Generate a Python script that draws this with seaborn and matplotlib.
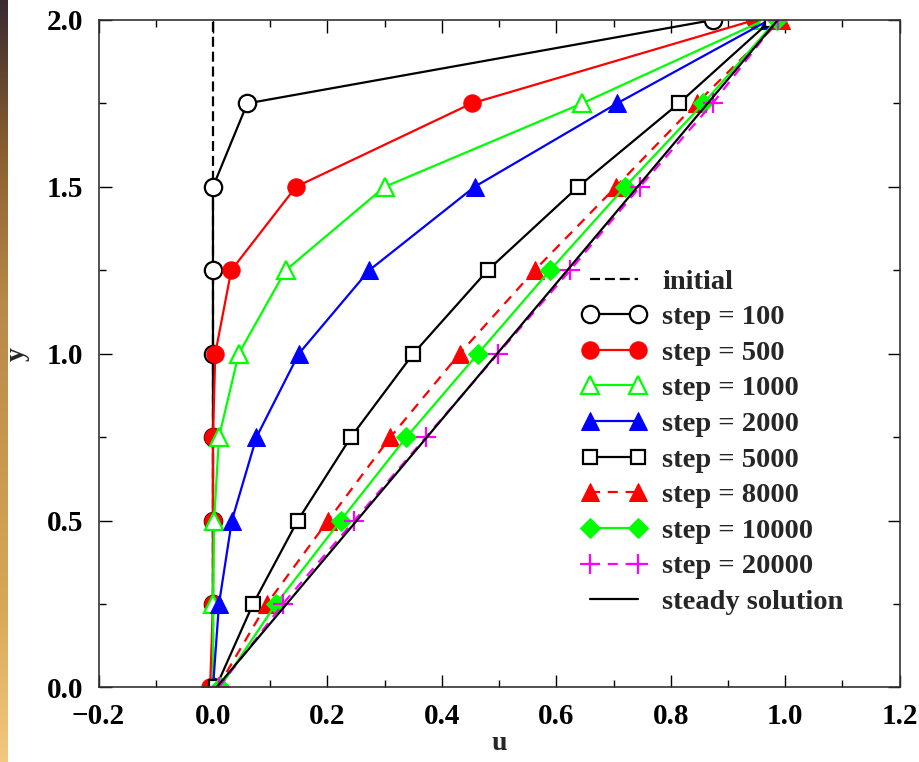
import numpy as np
import pandas as pd
import matplotlib
matplotlib.use("Agg")
import matplotlib.pyplot as plt
import seaborn as sns

# Velocity profiles u(y) at successive time steps
y_nodes = [0.0, 0.25, 0.5, 0.75, 1.0, 1.25, 1.5, 1.75, 2.0]

u_step100 = [0.0, 0.0, 0.0, 0.0, 0.0, 0.0, 0.0, 0.060, 0.874]
u_step500 = [-0.005, 0.0, 0.0, 0.0, 0.004, 0.032, 0.145, 0.452, 0.947]
u_step1000 = [0.0, 0.0, 0.002, 0.0105, 0.045, 0.127, 0.300, 0.645, 0.964]
u_step2000 = [0.0, 0.0105, 0.033, 0.076, 0.150, 0.273, 0.457, 0.706, 0.972]
u_step5000 = [0.005, 0.070, 0.148, 0.241, 0.350, 0.480, 0.638, 0.814, 0.976]
u_step8000 = [0.008, 0.094, 0.201, 0.310, 0.431, 0.562, 0.704, 0.845, 0.992]
u_step10000 = [0.012, 0.110, 0.223, 0.338, 0.463, 0.589, 0.720, 0.857, 0.985]
u_step20000 = [0.010, 0.122, 0.247, 0.372, 0.498, 0.624, 0.746, 0.873, 0.987]

initial_u = [0.0, 0.0]
initial_y = [0.0, 2.0]
steady_u = [0.006, 0.987]
steady_y = [0.0, 2.0]

x_ticks = [-0.2, 0.0, 0.2, 0.4, 0.6, 0.8, 1.0, 1.2]
y_ticks = [0.0, 0.5, 1.0, 1.5, 2.0]

sns.set_theme(style="ticks")
plt.rcParams["font.family"] = ["Liberation Serif", "DejaVu Serif"]
plt.rcParams["font.weight"] = "bold"
plt.rcParams["axes.labelweight"] = "bold"

fig = plt.figure(figsize=(9.19, 7.62), dpi=100)
fig.patch.set_facecolor("white")
ax = fig.add_axes([0.1072, 0.0978, 0.8718, 0.876])

GREEN = "#00ff00"
MAGENTA = "#ff00ff"
lw = 1.6

series = [
    ("step = 100", u_step100, dict(color="black", marker="o", markersize=12.5,
                                   markerfacecolor="white", markeredgecolor="black",
                                   markeredgewidth=1.6, linestyle="-")),
    ("step = 500", u_step500, dict(color="red", marker="o", markersize=12.5,
                                   markerfacecolor="red", markeredgecolor="red",
                                   linestyle="-")),
    ("step = 1000", u_step1000, dict(color=GREEN, marker="^", markersize=13,
                                     markerfacecolor="white", markeredgecolor=GREEN,
                                     markeredgewidth=1.6, linestyle="-")),
    ("step = 2000", u_step2000, dict(color="blue", marker="^", markersize=13,
                                     markerfacecolor="blue", markeredgecolor="blue",
                                     linestyle="-")),
    ("step = 5000", u_step5000, dict(color="black", marker="s", markersize=10.5,
                                     markerfacecolor="white", markeredgecolor="black",
                                     markeredgewidth=1.6, linestyle="-")),
    ("step = 8000", u_step8000, dict(color="red", marker="^", markersize=13,
                                     markerfacecolor="red", markeredgecolor="red",
                                     linestyle=(0, (4.5, 3.5)))),
    ("step = 10000", u_step10000, dict(color=GREEN, marker="D", markersize=10.5,
                                       markerfacecolor=GREEN, markeredgecolor=GREEN,
                                       linestyle="-")),
    ("step = 20000", u_step20000, dict(color=MAGENTA, marker="+", markersize=14,
                                       markeredgecolor=MAGENTA, markeredgewidth=1.6,
                                       linestyle=(0, (4.5, 3.5)))),
]

# initial condition
sns.lineplot(x=initial_u, y=initial_y, ax=ax, color="black", lw=lw,
             linestyle=(0, (4.5, 2.2)), estimator=None, sort=False, label="initial")

for label, u_vals, style in series:
    df = pd.DataFrame({"u": u_vals, "y": y_nodes})
    sns.lineplot(data=df, x="u", y="y", ax=ax, lw=lw, estimator=None,
                 sort=False, label=label, **style)

sns.lineplot(x=steady_u, y=steady_y, ax=ax, color="black", lw=lw,
             estimator=None, sort=False, label="steady solution")

ax.set_xlim(-0.2, 1.2)
ax.set_ylim(0.0, 2.0)
ax.set_xticks(x_ticks)
ax.set_yticks(y_ticks)
ax.set_xticklabels([f"{t:.1f}".replace("-", "\u2212") for t in x_ticks])
ax.set_yticklabels([f"{t:.1f}" for t in y_ticks])
ax.set_xticks(np.arange(-0.1, 1.2, 0.2), minor=True)
ax.set_yticks([0.25, 0.75, 1.25, 1.75], minor=True)
ax.tick_params(which="both", direction="in", top=True, right=True,
               labelsize=21, width=1.0, colors="black")
ax.tick_params(which="major", length=9, pad=11)
ax.tick_params(which="minor", length=5)
for sp in ax.spines.values():
    sp.set_visible(True)
    sp.set_linewidth(1.2)
    sp.set_color("#333333")

ax.set_xlabel("u", fontsize=20, fontweight="bold", labelpad=1)
ax.set_ylabel("y", fontsize=20, fontweight="bold", labelpad=12)

leg = ax.legend(loc="upper left", bbox_to_anchor=(0.5885, 0.6445), frameon=False,
                fontsize=20.5, handlelength=2.28, handletextpad=0.55,
                labelspacing=0.34, numpoints=2, borderaxespad=0.0)
for txt in leg.get_texts():
    txt.set_fontweight("bold")

# decorative strip along the left edge
strip = fig.add_axes([0.0, 0.0, 0.008, 1.0])
grad = np.linspace(0, 1, 256)[:, None]
cmap = matplotlib.colors.LinearSegmentedColormap.from_list(
    "edge", ["#3b2a30", "#8a6030", "#b88a48", "#c89850", "#d8a858", "#f2c880"])
strip.imshow(grad, aspect="auto", cmap=cmap, extent=[0, 1, 0, 1], origin="upper")
strip.axis("off")

fig.savefig("out.png", dpi=100)
